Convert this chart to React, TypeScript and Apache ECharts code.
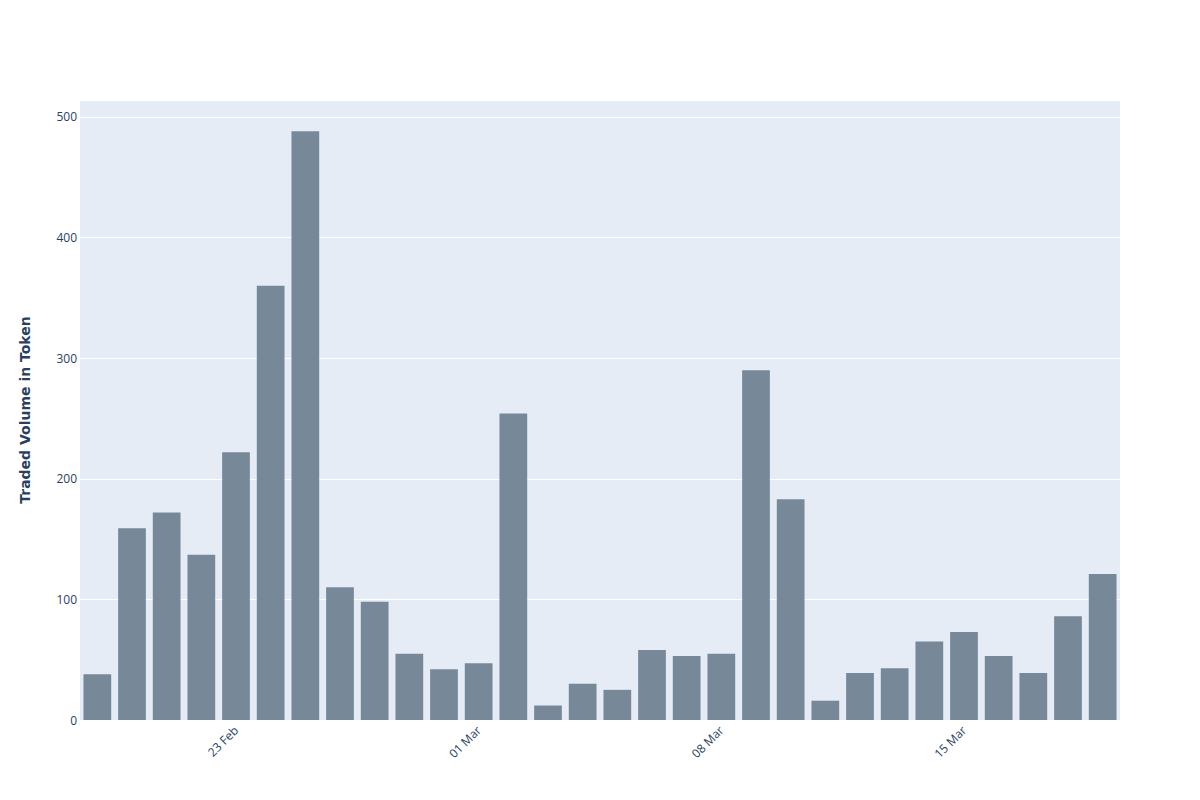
import React, { useEffect, useRef } from "react";
import * as echarts from "echarts";

const dates: string[] = [
  "19 Feb", "20 Feb", "21 Feb", "22 Feb", "23 Feb", "24 Feb", "25 Feb", "26 Feb", "27 Feb", "28 Feb", "29 Feb",
  "01 Mar", "02 Mar", "03 Mar", "04 Mar", "05 Mar", "06 Mar", "07 Mar", "08 Mar", "09 Mar", "10 Mar",
  "11 Mar", "12 Mar", "13 Mar", "14 Mar", "15 Mar", "16 Mar", "17 Mar", "18 Mar", "19 Mar",
];
const volumes: number[] = [
  38, 159, 172, 137, 222, 360, 488, 110, 98, 55, 42,
  47, 254, 12, 30, 25, 58, 53, 55, 290, 183,
  16, 39, 43, 65, 73, 53, 39, 86, 121,
];
const shownTicks: string[] = ["23 Feb", "01 Mar", "08 Mar", "15 Mar"];
const yTitle = "Traded Volume in Token";

export default function App() {
  const ref = useRef<HTMLDivElement>(null);
  useEffect(() => {
    document.body.style.margin = "0";
    const chart = echarts.init(ref.current!, undefined, { renderer: "svg" });
    const font = '"Open Sans", sans-serif';
    chart.setOption({
      animation: false,
      backgroundColor: "#ffffff",
      grid: {
        left: 80,
        right: 80,
        top: 100,
        bottom: 80,
        show: true,
        backgroundColor: "#E5ECF6",
        borderWidth: 0,
      },
      xAxis: {
        type: "category",
        data: dates,
        boundaryGap: true,
        axisLine: { show: false },
        axisTick: { show: false },
        axisLabel: {
          interval: (i: number, v: string) => shownTicks.includes(v),
          rotate: 45,
          color: "#2a3f5f",
          fontFamily: font,
          fontSize: 12,
          margin: 8,
        },
        splitLine: { show: false },
      },
      yAxis: {
        type: "value",
        min: 0,
        max: 514,
        interval: 100,
        name: yTitle,
        nameLocation: "middle",
        nameGap: 48,
        nameTextStyle: {
          color: "#2a3f5f",
          fontFamily: '"DejaVu Sans", Verdana, sans-serif',
          fontSize: 14,
          fontWeight: "bold",
        },
        axisLine: { show: false },
        axisTick: { show: false },
        axisLabel: {
          color: "#2a3f5f",
          fontFamily: font,
          fontSize: 12,
          margin: 3,
          showMaxLabel: false,
          formatter: (v: number) => (v % 100 === 0 ? String(v) : ""),
        },
        splitLine: { show: true, lineStyle: { color: "#ffffff", width: 1 } },
      },
      series: [
        {
          type: "bar",
          data: volumes,
          barCategoryGap: "20%",
          itemStyle: { color: "#778899" },
        },
      ],
    });
    return () => chart.dispose();
  }, []);
  return <div ref={ref} style={{ width: 1200, height: 800 }} />;
}
